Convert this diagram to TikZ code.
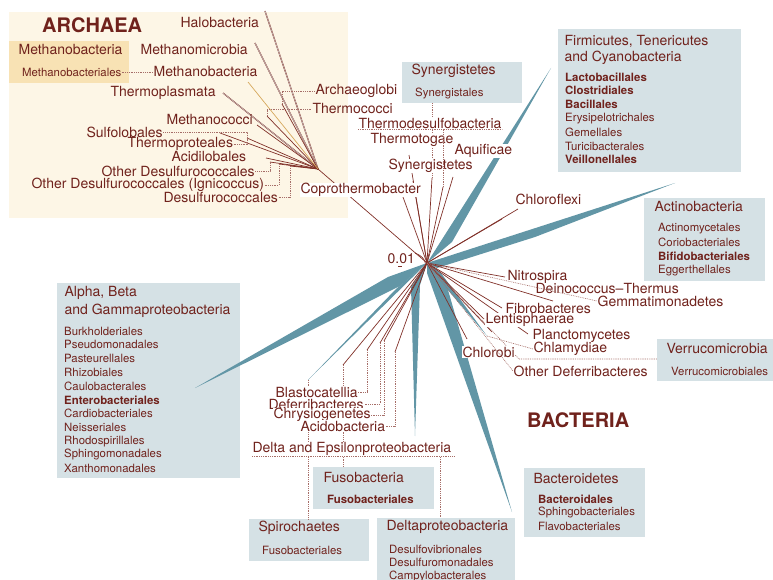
\documentclass[tikz,border=0pt]{standalone}
\usepackage{fontspec}
\setmainfont{TeX Gyre Heros}
\definecolor{txt}{RGB}{112,34,28}
\definecolor{brn}{RGB}{128,48,40}
\definecolor{boxblue}{RGB}{213,225,229}
\definecolor{cream}{RGB}{253,246,230}
\definecolor{hilite}{RGB}{248,226,180}
\definecolor{wedgeblue}{RGB}{98,150,166}
\definecolor{ochre}{RGB}{214,168,92}

\begin{document}
\begin{tikzpicture}[x=1pt,y=-1pt,
    lbl/.style={font=\fontsize{14}{16}\selectfont, text=txt, inner sep=0.4pt, anchor=west},
    blbl/.style={lbl, fill=white},
    sub/.style={font=\fontsize{11.4}{13}\selectfont, text=txt, inner sep=0pt, anchor=west},
    head/.style={font=\fontsize{20}{22}\selectfont\bfseries, text=txt, inner sep=0pt, anchor=west},
    panel/.style={fill=#1, anchor=north west, inner sep=0pt, outer sep=0pt},
    branch/.style={draw=brn, line width=0.7pt},
    dbl/.style={draw=brn, line width=0.35pt, double=gray!35, double distance=0.5pt},
    leader/.style={draw=brn!70, line width=0.6pt, dash pattern=on 0.9pt off 0.9pt},
    wedge/.style={fill=wedgeblue}]
  \useasboundingbox (0,0) rectangle (773,580);

  % background panels
  \node[panel=cream, minimum width=339pt, minimum height=206pt] (archbox) at (9,12) {};
  \node[panel=hilite, minimum width=120pt, minimum height=42pt] (mbbox) at (9,41) {};
  \node[panel=boxblue, minimum width=120pt, minimum height=41pt] (synbox) at (402,62) {};
  \node[panel=boxblue, minimum width=183pt, minimum height=143pt] (firbox) at (558,29) {};
  \node[panel=boxblue, minimum width=121pt, minimum height=83pt] (actbox) at (644,198) {};
  \node[panel=boxblue, minimum width=116pt, minimum height=42pt] (verbox) at (657,339) {};
  \node[panel=boxblue, minimum width=183pt, minimum height=195pt] (alpbox) at (57,283) {};
  \node[panel=boxblue, minimum width=121pt, minimum height=42pt] (fusbox) at (313,467) {};
  \node[panel=boxblue, minimum width=120pt, minimum height=42pt] (spibox) at (249,519) {};
  \node[panel=boxblue, minimum width=138pt, minimum height=70pt] (delbox) at (377,518) {};
  \node[panel=boxblue, minimum width=121pt, minimum height=69pt] (bacbox) at (524,468) {};

  % root and archaea
  \coordinate (R) at (427,263);
  \coordinate (AJ) at (318,169);
  \draw[branch] (R) -- (AJ);
  \draw[branch] (415,253) .. controls (428,258) and (428,268) .. (420,275);
  \foreach \n/\x/\y in {halo/265/11, mmic/255/43, tpla/223/93}
    {\coordinate (\n) at (\x,\y); \draw[dbl] (AJ) -- (\n);}
  \foreach \n/\x/\y in {mcoc/257/125, sulf/220/133, tpro/247/138, acid/266/158,
      odes/270/162, igni/279/164, desu/290/166, arcg/282/104, thco/267/116}
    {\coordinate (\n) at (\x,\y); \draw[branch] (AJ) -- (\n);}
  \coordinate (mbac) at (248,82);
  \draw[branch, draw=ochre] (AJ) -- (mbac);

  % teal wedges
  \coordinate (firT) at (551,68);
  \coordinate (actT) at (675,183);
  \coordinate (alpT) at (195,388);
  \coordinate (spiT) at (308,380);
  \coordinate (delT) at (415,436);
  \coordinate (bacT) at (512,512);
  \coordinate (chmT) at (487,336);
  \fill[wedge] (R) -- (452,242) -- (firT) -- cycle;
  \fill[wedge] (R) -- (437,268) -- (535,237) -- (actT) -- cycle;
  \fill[wedge] (R) -- (388,277) -- (alpT) -- (400,286) -- cycle;
  \fill[wedge] (R) -- (396,289) -- (spiT) -- cycle;
  \fill[wedge] (R) -- (411,287) -- (delT) -- (420,285) -- cycle;
  \fill[wedge] (R) -- (427,273) -- (bacT) -- (446,283) -- cycle;
  \fill[wedge] (R) -- (436,276) -- (chmT) -- (441,273) -- cycle;

  % bacteria branches
  \foreach \n/\x/\y in {cop/403/197, syn/413/181, ttg/409/155, aqu/453/177,
      cfx/518/209, cfx2/502/219, nit/505/277, dei/553/301, fib/502/308,
      len/484/319, pla/528/334, pla2/492/332, clb/467/339,
      fus/343/365, bla/367/350, def/380/343, chr/384/341, aci/395/352}
    {\coordinate (\n) at (\x,\y); \draw[branch] (R) -- (\n);}
  \coordinate (syb) at (432,178);
  \coordinate (thd) at (443,187);
  \draw[branch] (R) -- (syb);
  \draw[branch] (R) -- (thd);

  % leaders behind labels
  \draw[leader] (syb) -- (syb |- synbox.south);
  \draw[leader] (fus) -- (fus |- fusbox.north);
  \draw[leader] (spiT) -- (spiT |- spibox.north);
  \coordinate (vbend) at (519,359);
  \draw[leader] (R) -- (vbend) -- (vbend -| verbox.west);

  % archaea labels
  \node[head] (archaea) at (42,25) {ARCHAEA};
  \node[lbl] (mbh) at (18,50) {Methanobacteria};
  \node[sub] (mbs) at (22,72) {Methanobacteriales};
  \node[lbl] (halol) at (180,23) {Halobacteria};
  \node[lbl] (mmil) at (140,50) {Methanomicrobia};
  \node[lbl] (mbal) at (153,72) {Methanobacteria};
  \node[lbl] (tpll) at (110,93) {Thermoplasmata};
  \node[lbl] (arl) at (315,91) {Archaeoglobi};
  \node[lbl] (thl) at (312,109) {Thermococci};
  \node[lbl] (mcl) at (166,120) {Methanococci};
  \node[lbl] (sul) at (86,132) {Sulfolobales};
  \node[lbl] (tpl) at (127,144) {Thermoproteales};
  \node[lbl] (acl) at (171,157) {Acidilobales};
  \node[lbl] (odl1) at (101,171) {Other Desulfurococcales};
  \node[lbl] (igl) at (31,185) {Other Desulfurococcales (Ignicoccus)};
  \node[lbl] (dsl) at (163,197) {Desulfurococcales};
  \node[blbl] (cpl) at (300,190) {Coprothermobacter};

  \draw[leader] (mbs.east) -- (mbal.west);
  \draw[leader] (arcg) |- (arl.west);
  \draw[leader] (thco) |- (thl.west);
  \draw[leader] (sul.east) -| (tpro);
  \draw[leader] (tpl.east) -| (tpro);
  \draw[leader] (odl1.east) -| (odes);
  \draw[leader] (igl.east) -| (igni);
  \draw[leader] (dsl.east) -| (desu);

  % bacteria labels
  \node[blbl] (tdl) at (358,123) {Thermodesulfobacteria};
  \node[blbl] (ttl) at (370,140) {Thermotogae};
  \node[blbl] (aql) at (454,151) {Aquificae};
  \node[blbl] (sgl) at (388,166) {Synergistetes};
  \node[blbl] (cfl) at (515,199) {Chloroflexi};
  \node[lbl] (scl) at (387,259) {0.01};
  \node[blbl] (nil) at (507,277) {Nitrospira};
  \node[blbl] (dtl) at (535,289) {Deinococcus{--}Thermus};
  \node[blbl] (gml) at (597,301) {Gemmatimonadetes};
  \node[blbl] (fbl) at (505,309) {Fibrobacteres};
  \node[blbl] (lnl) at (485,320) {Lentisphaerae};
  \node[blbl] (pcl) at (532,336) {Planctomycetes};
  \node[blbl] (cml) at (533,349) {Chlamydiae};
  \node[blbl] (cbl) at (462,352) {Chlorobi};
  \node[blbl] (odl) at (513,371) {Other Deferribacteres};
  \node[blbl] (bll) at (275,392) {Blastocatellia};
  \node[blbl] (dfl) at (268,404) {Deferribacteres};
  \node[blbl] (crl) at (273,415) {Chrysiogenetes};
  \node[blbl] (acbl) at (300,426) {Acidobacteria};
  \node[blbl] (dep) at (252,449) {Delta and Epsilonproteobacteria};
  \node[head] (bacteria) at (527,420) {BACTERIA};
  \draw[brn, line width=0.6pt] ([xshift=-3pt,yshift=-2pt]scl.south) -- ++(4,0);

  \draw[leader] (thd) -- (thd |- tdl.south);
  \draw[leader] (tdl.south west) -- (tdl.south east);
  \draw[leader] (R) -- (gml.west);
  \draw[leader] (R) -- (odl.west);
  \draw[leader] (chmT) -- (cml.west);
  \draw[leader] (bla) |- (bll.east);
  \draw[leader] (def) |- (dfl.east);
  \draw[leader] (chr) |- (crl.east);
  \draw[leader] (aci) |- (acbl.east);
  \draw[leader] (dep.south west) -- ([xshift=2pt]dep.south east);
  \coordinate (dd) at (440,457);
  \draw[leader] (dd) -- (dd |- delbox.north);

  % box contents
  \node[lbl] (syt) at (411,71) {Synergistetes};
  \node[sub] (sys) at (415,93) {Synergistales};
  \node[lbl] (fit1) at (564,41) {Firmicutes, Tenericutes};
  \node[lbl] (fit2) at (564,58) {and Cyanobacteria};
  \foreach \t [count=\i from 0] in {\textbf{Lactobacillales}, \textbf{Clostridiales},
      \textbf{Bacillales}, Erysipelotrichales, Gemellales, Turicibacterales,
      \textbf{Veillonellales}}
    \node[sub] (fir\i) at (565,77+13.8*\i) {\t};
  \node[lbl] (act) at (654,207) {Actinobacteria};
  \foreach \t [count=\i from 0] in {Actinomycetales, Coriobacteriales,
      \textbf{Bifidobacteriales}, Eggerthellales}
    \node[sub] (act\i) at (658,229+13.8*\i) {\t};
  \node[lbl] (vet) at (666,348) {Verrucomicrobia};
  \node[sub] (ves) at (671,371) {Verrucomicrobiales};
  \node[lbl] (alt1) at (64,293) {Alpha, Beta};
  \node[lbl] (alt2) at (64,311) {and Gammaproteobacteria};
  \foreach \t [count=\i from 0] in {Burkholderiales, Pseudomonadales, Pasteurellales,
      Rhizobiales, Caulobacterales, \textbf{Enterobacteriales}, Cardiobacteriales,
      Neisseriales, Rhodospirillales, Sphingomonadales, Xanthomonadales}
    \node[sub] (alp\i) at (64,331+13.77*\i) {\t};
  \node[lbl] (fut) at (323,477) {Fusobacteria};
  \node[sub] (fus1) at (327,499) {\textbf{Fusobacteriales}};
  \node[lbl] (spt) at (258,528) {Spirochaetes};
  \node[sub] (sps) at (262,550) {Fusobacteriales};
  \node[lbl] (det) at (386,527) {Deltaproteobacteria};
  \foreach \t [count=\i from 0] in {Desulfovibrionales, Desulfuromonadales, Campylobacterales}
    \node[sub] (del\i) at (389,549+13.8*\i) {\t};
  \node[lbl] (bat) at (533,478) {Bacteroidetes};
  \foreach \t [count=\i from 0] in {\textbf{Bacteroidales}, Sphingobacteriales, Flavobacteriales}
    \node[sub] (bac\i) at (538,499+13.8*\i) {\t};
\end{tikzpicture}
\end{document}
